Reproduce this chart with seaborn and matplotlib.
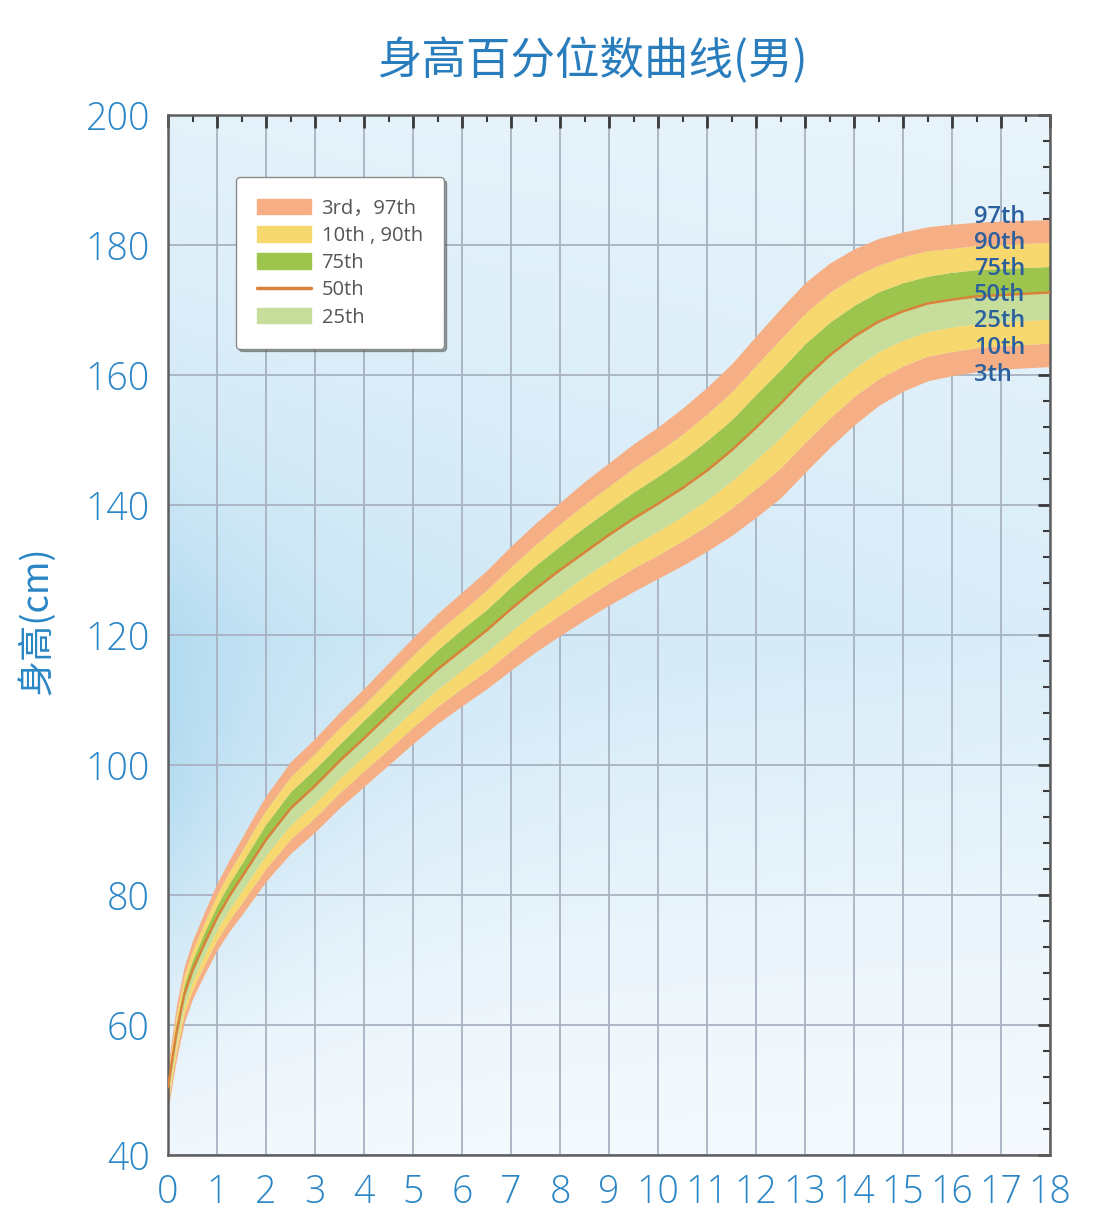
import numpy as np
import pandas as pd
import seaborn as sns
import matplotlib.pyplot as plt
from matplotlib.patches import Patch
from matplotlib.lines import Line2D
from matplotlib.colors import LinearSegmentedColormap

# age in years
ages = [0, 0.17, 0.33, 0.5, 0.75, 1, 1.25, 1.5, 1.75, 2, 2.5, 3, 3.5, 4, 4.5, 5, 5.5,
        6, 6.5, 7, 7.5, 8, 8.5, 9, 9.5, 10, 10.5, 11, 11.5, 12, 12.5, 13, 13.5,
        14, 14.5, 15, 15.5, 16, 16.5, 17, 18]

# height (cm) percentiles
p3 = [47.1, 54.6, 60.3, 64.0, 67.9, 71.5, 74.4, 76.9, 79.5, 82.1, 86.4, 89.7, 93.4,
      96.7, 100.0, 103.3, 106.4, 109.1, 111.7, 114.6, 117.4, 119.9, 122.3, 124.6,
      126.7, 128.7, 130.7, 132.9, 135.3, 138.1, 141.1, 145.0, 148.8, 152.3, 155.3,
      157.5, 159.1, 159.9, 160.5, 160.9, 161.3]
p10 = [48.1, 55.9, 61.7, 65.4, 69.4, 73.1, 76.1, 78.7, 81.4, 84.1, 88.6, 91.9, 95.7,
       99.1, 102.4, 105.8, 109.0, 111.8, 114.5, 117.6, 120.5, 123.1, 125.6, 128.0,
       130.3, 132.3, 134.5, 136.8, 139.5, 142.5, 145.7, 149.6, 153.3, 156.7, 159.4,
       161.4, 162.9, 163.6, 164.2, 164.5, 164.9]
p25 = [49.2, 57.2, 63.0, 66.8, 70.9, 74.7, 77.8, 80.6, 83.4, 86.2, 90.8, 94.2, 98.0,
       101.4, 104.9, 108.4, 111.7, 114.6, 117.4, 120.6, 123.6, 126.3, 129.0, 131.4,
       133.9, 136.0, 138.3, 140.8, 143.7, 147.0, 150.4, 154.3, 157.9, 161.0, 163.6,
       165.4, 166.7, 167.4, 167.9, 168.2, 168.6]
p50 = [50.4, 58.7, 64.6, 68.4, 72.6, 76.5, 79.8, 82.7, 85.6, 88.5, 93.3, 96.8, 100.6,
       104.1, 107.7, 111.3, 114.7, 117.7, 120.7, 124.0, 127.1, 130.0, 132.7, 135.4,
       137.9, 140.2, 142.6, 145.3, 148.4, 151.9, 155.6, 159.5, 163.0, 165.9, 168.2,
       169.8, 171.0, 171.6, 172.1, 172.3, 172.7]
p75 = [51.6, 60.3, 66.2, 70.0, 74.4, 78.4, 81.8, 84.8, 87.9, 90.9, 95.9, 99.4, 103.2,
       106.9, 110.5, 114.2, 117.7, 120.9, 123.9, 127.4, 130.7, 133.7, 136.6, 139.3,
       142.0, 144.4, 147.0, 149.9, 153.1, 157.0, 160.8, 164.8, 168.1, 170.7, 172.8,
       174.2, 175.2, 175.8, 176.2, 176.4, 176.7]
p90 = [52.7, 61.7, 67.6, 71.5, 75.9, 80.1, 83.6, 86.7, 90.0, 93.1, 98.2, 101.8, 105.7,
       109.3, 113.1, 116.9, 120.5, 123.7, 126.9, 130.5, 133.9, 137.1, 140.1, 142.9,
       145.7, 148.2, 150.9, 154.0, 157.4, 161.5, 165.5, 169.5, 172.7, 175.1, 176.9,
       178.2, 179.1, 179.5, 179.9, 180.1, 180.4]
p97 = [53.8, 63.0, 69.0, 73.0, 77.5, 81.8, 85.4, 88.7, 92.1, 95.3, 100.5, 104.1, 108.1,
       111.8, 115.7, 119.6, 123.3, 126.6, 129.9, 133.7, 137.2, 140.4, 143.6, 146.5,
       149.4, 152.0, 154.9, 158.1, 161.7, 166.0, 170.2, 174.2, 177.2, 179.4, 181.0,
       182.0, 182.8, 183.2, 183.5, 183.7, 183.9]

legend_labels = ["3rd，97th", "10th , 90th", "75th", "50th", "25th"]
side_labels = ["97th", "90th", "75th", "50th", "25th", "10th", "3th"]
side_label_y = [184.3, 180.3, 176.3, 172.3, 168.3, 164.2, 160.0]

c_orange = "#f6ae84"
c_yellow = "#f6d86e"
c_green = "#9dc44c"
c_lgreen = "#c6dd9c"
c_line = "#d8823a"
c_blue = "#2a86c6"
cjk = ["Noto Sans CJK SC", "DejaVu Sans"]

sns.set_theme(style="white")
plt.rcParams["font.family"] = ["Open Sans", "Noto Sans CJK SC", "DejaVu Sans"]

df = pd.DataFrame({"age": ages, "p3": p3, "p10": p10, "p25": p25, "p50": p50,
                   "p75": p75, "p90": p90, "p97": p97})

fig = plt.figure(figsize=(11.14, 12.15), dpi=100)
ax = fig.add_axes([168 / 1114, 60 / 1215, 882 / 1114, 1040 / 1215])

# soft blue background
gx = np.linspace(0, 18, 300)
gy = np.linspace(40, 200, 400)
XX, YY = np.meshgrid(gx, gy)
v = np.where(YY <= 120, 0.05 + 0.45 * ((YY - 40) / 80) ** 1.3,
             0.5 - 0.25 * ((YY - 120) / 80))
v = v * (1 - 0.25 * XX / 18)
v = v + 0.45 * np.exp(-XX / 2.6) * np.exp(-((YY - 100) / 38) ** 2)
v = np.clip(v, 0, 1)
bg_cmap = LinearSegmentedColormap.from_list("bg", ["#f8fbfe", "#a6d5ee"])
ax.imshow(v, extent=[0, 18, 40, 200], origin="lower", aspect="auto",
          cmap=bg_cmap, vmin=0, vmax=1, zorder=0)

bands = [("p3", "p10", c_orange), ("p10", "p25", c_yellow), ("p25", "p50", c_lgreen),
         ("p50", "p75", c_green), ("p75", "p90", c_yellow), ("p90", "p97", c_orange)]
for lo, hi, col in bands:
    ax.fill_between(df["age"], df[lo], df[hi], color=col, lw=0, zorder=2)

sns.lineplot(data=df, x="age", y="p50", color=c_line, lw=1.8, ax=ax, zorder=3)

ax.set_xlim(0, 18)
ax.set_ylim(40, 200)
ax.set_xticks(range(0, 19))
ax.set_yticks(range(40, 201, 20))
ax.set_xticks(np.arange(0, 18.01, 0.5), minor=True)
ax.set_yticks(range(40, 201, 4), minor=True)
ax.grid(which="major", color="#a8b2c1", lw=1.3)
ax.set_axisbelow(True)

ax.tick_params(which="both", direction="in", top=True, right=True, color="#3a3a3a",
               labelcolor=c_blue, labelsize=27)
ax.tick_params(which="major", length=9, width=2, pad=13)
ax.tick_params(which="minor", length=5, width=1.5)
for lab in ax.get_xticklabels() + ax.get_yticklabels():
    lab.set_fontweight("light")
for s in ax.spines.values():
    s.set_color("#5e5e5e")
    s.set_linewidth(1.8)

ax.set_xlabel("")
ax.set_ylabel("身高(cm)", color=c_blue, fontsize=26, family=cjk)
ax.yaxis.set_label_coords(-0.128, 0.514)

fig.text(592 / 1114, 1 - 61 / 1215, "身高百分位数曲线(男)", color="#2a7dbd", fontsize=32,
         fontweight="light", ha="center", va="center", family=cjk)

for lab, yv in zip(side_labels, side_label_y):
    ax.text(16.45, yv, lab, color="#2c5f9e", fontsize=17, fontweight="semibold",
            ha="left", va="center", zorder=5)

handles = [Patch(color=c_orange), Patch(color=c_yellow), Patch(color=c_green),
           Line2D([0], [0], color=c_line, lw=2.5), Patch(color=c_lgreen)]
leg = ax.legend(handles, legend_labels, loc="upper left", bbox_to_anchor=(0.077, 0.94),
                borderaxespad=0, frameon=True, fancybox=True, shadow=True,
                framealpha=1, edgecolor="#8a8a8a", handlelength=2.7, handleheight=0.8,
                handletextpad=0.5, labelspacing=0.36, borderpad=1.05,
                prop={"family": ["Open Sans", "Noto Sans CJK SC"], "size": 14.5})
for t in leg.get_texts():
    t.set_color("#555555")
leg.set_zorder(6)

fig.savefig("out.png", dpi=100)
